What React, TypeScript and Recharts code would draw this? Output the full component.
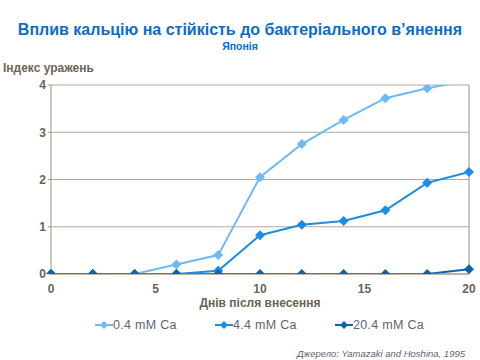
import { LineChart, Line, XAxis, YAxis, CartesianGrid, ReferenceLine } from 'recharts';

const days = [0, 2, 4, 6, 8, 10, 12, 14, 16, 18, 20];
const ca04 = [0, 0, 0, 0.2, 0.4, 2.05, 2.75, 3.26, 3.72, 3.93, 4.1];
const ca44 = [0, 0, 0, 0, 0.07, 0.82, 1.04, 1.12, 1.35, 1.93, 2.16];
const ca204 = [0, 0, 0, 0, 0, 0, 0, 0, 0, 0, 0.1];
const xTicks = [0, 5, 10, 15, 20];
const yTicks = [0, 1, 2, 3, 4];

const seriesNames = ['0.4 mM Ca', '4.4 mM Ca', '20.4 mM Ca'];
const colors = ['#6cbaf6', '#1b8ce6', '#0a62b0'];

const data = days.map((d, i) => ({ day: d, a: ca04[i], b: ca44[i], c: ca204[i] }));

const font = '"Liberation Sans", Arial, sans-serif';
const labelColor = '#6e6253';

function Diamond(props: any) {
  const { cx, cy, value, fill } = props;
  if (cx == null || cy == null || value > 4) return null;
  const r = 5;
  return <polygon points={`${cx},${cy - r} ${cx + r},${cy} ${cx},${cy + r} ${cx - r},${cy}`} fill={fill} />;
}

function LegendItem({ name, color }: { name: string; color: string }) {
  return (
    <div style={{ display: 'flex', alignItems: 'center', width: 120 }}>
      <svg width={18} height={10}>
        <line x1={0} y1={5} x2={18} y2={5} stroke={color} strokeWidth={2} />
        <polygon points="9,1 13,5 9,9 5,5" fill={color} />
      </svg>
      <span style={{ color: '#5b6570', fontSize: 12.5, letterSpacing: 0.3 }}>{name}</span>
    </div>
  );
}

export default function App() {
  return (
    <div style={{ position: 'absolute', left: 0, top: 0, width: 480, height: 360, background: '#fff', fontFamily: font }}>
      <div style={{ position: 'absolute', top: 21, width: 480, textAlign: 'center', color: '#0b6cc9', fontWeight: 'bold', fontSize: 16 }}>
        Вплив кальцію на стійкість до бактеріального в’янення
      </div>
      <div style={{ position: 'absolute', top: 40, width: 480, textAlign: 'center', color: '#0b6cc9', fontWeight: 'bold', fontSize: 10.5 }}>
        Японія
      </div>
      <div style={{ position: 'absolute', top: 61, left: 3, color: labelColor, fontWeight: 'bold', fontSize: 12 }}>
        Індекс уражень
      </div>
      <div style={{ position: 'absolute', left: 0, top: 0 }}>
        <LineChart width={480} height={360} data={data} margin={{ top: 85, right: 11, left: 21, bottom: 56 }}>
          <CartesianGrid vertical={false} stroke="#b3aa9c" />
          <XAxis
            dataKey="day"
            type="number"
            domain={[0, 20]}
            ticks={xTicks}
            tickLine={false}
            axisLine={{ stroke: '#9c9282' }}
            tick={{ fill: labelColor, fontSize: 12, fontWeight: 'bold', fontFamily: font }}
            height={30}
            tickMargin={4}
          />
          <YAxis
            type="number"
            domain={[0, 4]}
            ticks={yTicks}
            allowDataOverflow
            width={30}
            tickSize={3}
            tickLine={{ stroke: '#9c9282' }}
            axisLine={{ stroke: '#9c9282' }}
            tick={{ fill: labelColor, fontSize: 12, fontWeight: 'bold', fontFamily: font }}
          />
          <ReferenceLine x={20} stroke="#9c9282" />
          <Line dataKey="a" stroke={colors[0]} strokeWidth={2} dot={<Diamond fill={colors[0]} />} isAnimationActive={false} />
          <Line dataKey="b" stroke={colors[1]} strokeWidth={2} dot={<Diamond fill={colors[1]} />} isAnimationActive={false} />
          <Line dataKey="c" stroke={colors[2]} strokeWidth={2} dot={<Diamond fill={colors[2]} />} isAnimationActive={false} />
        </LineChart>
      </div>
      <div style={{ position: 'absolute', top: 296, width: 480, textAlign: 'center', paddingLeft: 40, boxSizing: 'border-box', color: labelColor, fontWeight: 'bold', fontSize: 12 }}>
        Днів після внесення
      </div>
      <div style={{ position: 'absolute', top: 318, left: 95, display: 'flex' }}>
        {seriesNames.map((n, i) => (
          <LegendItem key={n} name={n} color={colors[i]} />
        ))}
      </div>
      <div style={{ position: 'absolute', top: 348, right: 15, color: '#5b6570', fontStyle: 'italic', fontSize: 9.5 }}>
        Джерело: Yamazaki and Hoshina, 1995
      </div>
    </div>
  );
}
